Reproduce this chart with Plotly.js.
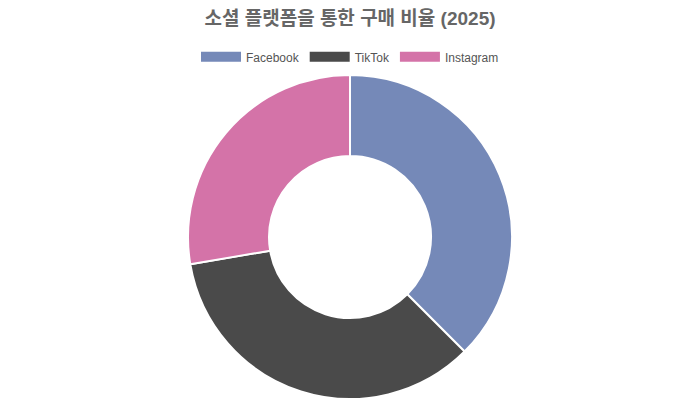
<!DOCTYPE html>
<html>
<head>
<meta charset="utf-8">
<script src="https://cdn.plot.ly/plotly-3.0.1.min.js"></script>
<style>
  html, body { margin: 0; padding: 0; background: #fff; }
  #chart { width: 700px; height: 400px; }
</style>
</head>
<body>
<div id="chart"></div>
<script>
// share of purchases through social platforms (2025)
const platforms = ["Facebook", "TikTok", "Instagram"];
const shares = [37.5, 34.8, 27.7];
const colors = ["#7589b8", "#4a4a4a", "#d473a8"];

const font = "Liberation Sans, Arial, 'Noto Sans CJK KR', sans-serif";

const pie = {
    type: "pie",
    labels: platforms,
    values: shares,
    hole: 0.5,
    sort: false,
    direction: "clockwise",
    rotation: 0,
    textinfo: "none",
    hoverinfo: "label+percent",
    showlegend: false,
    marker: { colors: colors, line: { color: "#ffffff", width: 2 } },
    domain: { x: [0, 1], y: [0, 1] }
};

// legend entries drawn as thick lines so the keys look like bars
const keys = platforms.map((p, i) => ({
    type: "scatter",
    mode: "lines",
    x: [null],
    y: [null],
    name: p,
    line: { color: colors[i], width: 10 },
    hoverinfo: "skip",
    showlegend: true
}));

const layout = {
    width: 700,
    height: 400,
    title: {
        text: "<b>소셜 플랫폼을 통한 구매 비율 (2025)</b>",
        x: 0.5,
        xanchor: "center",
        y: 0.953,
        yanchor: "middle",
        font: { family: font, size: 19, color: "#666666" }
    },
    legend: {
        orientation: "h",
        x: 0.5,
        xanchor: "center",
        y: 1.056,
        yanchor: "middle",
        font: { family: font, size: 12, color: "#555555" },
        itemwidth: 40
    },
    xaxis: { visible: false },
    yaxis: { visible: false },
    margin: { l: 0, r: 0, t: 75, b: 1 },
    paper_bgcolor: "#ffffff",
    plot_bgcolor: "#ffffff"
};

Plotly.newPlot("chart", [pie, ...keys], layout, { displayModeBar: false, staticPlot: true });
</script>
</body>
</html>
